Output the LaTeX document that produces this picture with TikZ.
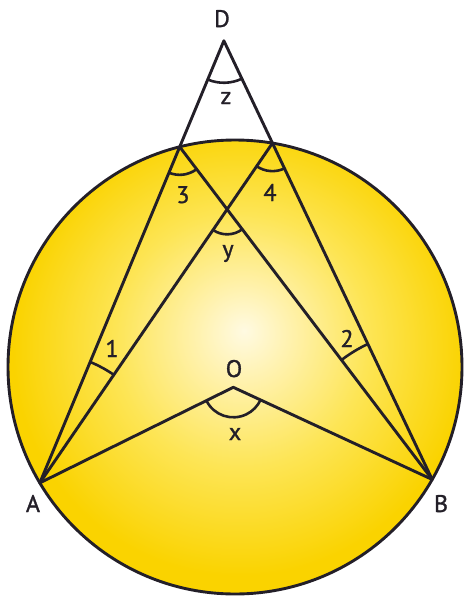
\documentclass[tikz,border=0pt]{standalone}
\usepackage{fontspec}
\setmainfont{PT Sans}
\newfontfamily\lblfont[BoldFont={PT Sans}, BoldFeatures={FakeBold=1.3}]{PT Sans}
\usetikzlibrary{angles,calc}
\definecolor{ink}{RGB}{35,31,40}
\definecolor{yc0}{RGB}{255,250,226}
\definecolor{yc1}{RGB}{255,242,175}
\definecolor{yc2}{RGB}{253,229,85}
\definecolor{yc3}{RGB}{250,211,0}
\pgfdeclareradialshading{ybg}{\pgfpoint{1bp}{4bp}}{color(0bp)=(yc0); color(5bp)=(yc1); color(14bp)=(yc2); color(25bp)=(yc3); color(50bp)=(yc3)}
\tikzset{
  geo/.style={draw=ink, line width=2.9pt, line cap=round, line join=round},
  arcmark/.style={draw=ink, line width=2.6pt},
  lbl/.style={anchor=base, inner sep=0pt, font=\lblfont\bfseries\fontsize{24}{24}\selectfont, text=ink}
}
\begin{document}
\begin{tikzpicture}[x=1pt,y=1pt]
\useasboundingbox (0,0) rectangle (469,-600);
\coordinate (C) at (235,-367);
\coordinate (A) at ($(C)+(210.7:227)$);
\coordinate (B) at ($(C)+(330.3:227)$);
\coordinate (P) at ($(C)+(104.1:227)$);
\coordinate (Q) at ($(C)+(80.5:227)$);
\coordinate (O) at (233.3,-387.3);
\coordinate (D) at (intersection of A--P and B--Q);
\coordinate (Y) at (intersection of A--Q and B--P);
\fill[shading=ybg] (C) circle (227);
\draw[geo] (C) circle (227);
\draw[geo] (A) -- (D) -- (B);
\draw[geo] (A) -- (Q);
\draw[geo] (B) -- (P);
\draw[geo] (A) -- (O) -- (B);
\pic[arcmark, angle radius=42pt] {angle=A--D--B};
\pic[arcmark, angle radius=28pt] {angle=A--P--B};
\pic[arcmark, angle radius=28pt] {angle=A--Q--B};
\pic[arcmark, angle radius=25pt] {angle=A--Y--B};
\pic[arcmark, angle radius=131pt] {angle=Q--A--P};
\pic[arcmark, angle radius=150pt] {angle=Q--B--P};
\pic[arcmark, angle radius=30pt] {angle=A--O--B};
\node[lbl] (lD) at (222,-27) {D};
\node[lbl] (lz) at (226,-104) {z};
\node[lbl] (l3) at (183,-203) {3};
\node[lbl] (l4) at (270,-201) {4};
\node[lbl] (ly) at (228,-257) {y};
\node[lbl] (l1) at (112,-357) {1};
\node[lbl] (l2) at (347,-347) {2};
\node[lbl] (lO) at (234,-377) {O};
\node[lbl] (lx) at (235,-440) {x};
\node[lbl] (lA) at (33,-512) {A};
\node[lbl] (lB) at (441,-512) {B};
\end{tikzpicture}
\end{document}
